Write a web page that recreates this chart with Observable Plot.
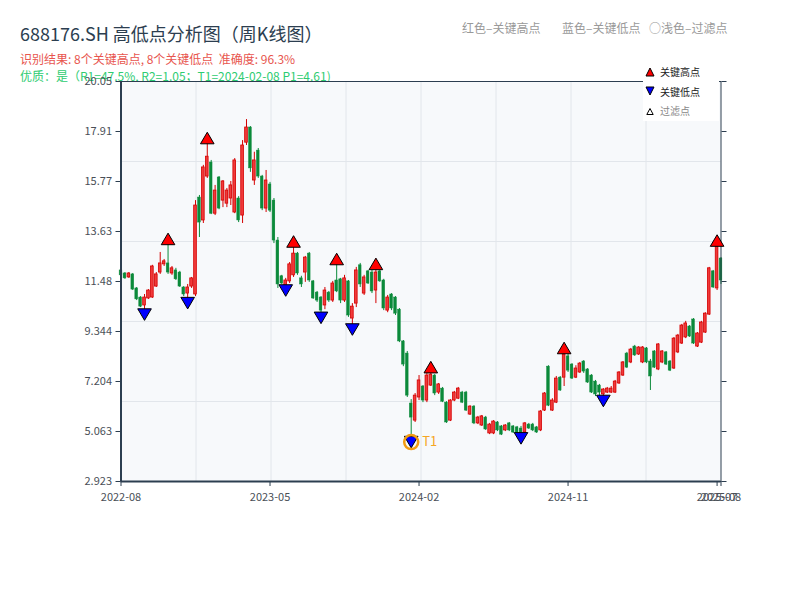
<!DOCTYPE html>
<html><head><meta charset="utf-8">
<script src="https://cdn.jsdelivr.net/npm/d3@7"></script>
<script src="https://cdn.jsdelivr.net/npm/@observablehq/plot@0.6"></script>
<style>
body{margin:0;background:#fff;}
#wrap{position:relative;width:800px;height:600px;overflow:hidden;font-family:"Noto Sans CJK SC","Noto Sans",sans-serif;}
.t{position:absolute;white-space:pre;line-height:1;}
#chart{position:absolute;left:0;top:0;z-index:1;}
#legend{position:absolute;left:643px;top:61px;width:76px;height:60px;background:#fff;z-index:2;}
#legend .row{position:absolute;left:0;height:12px;font-size:10px;line-height:12px;white-space:pre;}
#legend svg{position:absolute;left:2px;}
#legend span{position:absolute;left:17px;top:0;}
</style></head><body><div id="wrap">
<div class="t" style="left:20px;top:24px;font-size:18px;color:#2c3e50">688176.SH 高低点分析图（周K线图）</div>
<div class="t" style="left:20px;top:53px;font-size:12px;color:#e8554e">识别结果: 8个关键高点, 8个关键低点  准确度: 96.3%</div>
<div class="t" style="left:20px;top:70px;font-size:12px;color:#2ecc71">优质：是（R1=47.5%, R2=1.05；T1=2024-02-08 P1=4.61)</div>
<div class="t" style="left:462px;top:22px;font-size:12px;color:#999">红色–关键高点</div>
<div class="t" style="left:562px;top:22px;font-size:12px;color:#999">蓝色–关键低点</div>
<div class="t" style="left:649px;top:22px;font-size:12px;color:#999">○浅色–过滤点</div>
<div id="chart"></div>
<div id="legend">
  <div class="row" style="top:5px"><svg width="10" height="10" viewBox="0 0 10 10" style="top:1px"><path d="M5,1L9,9L1,9Z" fill="#ff0000" stroke="#000" stroke-width="1"/></svg><span style="color:#222">关键高点</span></div>
  <div class="row" style="top:25px"><svg width="10" height="10" viewBox="0 0 10 10" style="top:0px"><path d="M5,9L9,1L1,1Z" fill="#0000ff" stroke="#000" stroke-width="1"/></svg><span style="color:#222">关键低点</span></div>
  <div class="row" style="top:44px"><svg width="10" height="10" viewBox="0 0 10 10" style="top:1px"><path d="M5,2.5L8.2,8.5L1.8,8.5Z" fill="#fff" stroke="#000" stroke-width="1"/></svg><span style="color:#888">过滤点</span></div>
</div>
</div>
<script>
const open = [11.96,11.83,11.66,11.79,11.19,10.80,10.46,10.76,10.80,11.27,
11.87,12.22,12.26,11.83,11.96,11.87,11.23,10.97,11.27,10.93,
15.08,14.10,15.98,16.58,14.39,15.94,14.95,14.82,15.04,14.44,
15.04,14.31,17.43,18.08,15.81,17.09,15.98,14.61,15.64,14.95,
13.24,11.71,11.27,11.49,11.75,12.68,11.62,11.87,12.68,11.49,
11.01,10.80,10.46,11.01,10.67,11.53,11.58,10.67,11.49,9.90,
10.54,12.18,10.97,11.92,11.87,11.10,11.92,11.53,10.24,10.93,
10.80,10.28,8.92,8.40,6.26,5.53,6.52,6.99,6.39,7.03,
7.46,6.73,6.90,6.30,5.53,6.39,6.47,6.73,6.73,5.79,
6.13,5.41,5.32,5.66,4.98,4.98,5.45,5.28,5.11,5.41,
5.28,5.24,5.19,5.02,5.36,5.36,5.24,5.11,5.96,7.84,
5.96,6.30,7.37,7.37,8.28,7.93,7.37,7.59,8.06,7.72,
7.46,7.20,7.03,6.65,6.73,6.73,6.73,7.12,7.46,8.40,
8.02,8.70,8.36,8.02,8.62,8.06,8.49,7.72,8.02,8.45,
8.06,7.76,8.45,8.83,9.09,9.56,9.86,8.70,8.87,9.30,
10.07,11.92,11.19,12.47];
const high = [12.00,11.87,11.87,11.83,11.23,10.84,10.93,11.14,12.18,11.87,
12.73,12.43,13.31,12.13,12.05,11.92,11.27,11.36,11.66,14.95,
15.17,16.46,17.63,16.67,15.60,15.98,15.81,15.47,15.77,16.75,
15.12,17.52,18.42,18.12,17.02,17.18,16.03,16.24,15.73,15.04,
13.37,11.75,11.62,12.30,13.20,12.73,11.71,12.56,12.73,11.53,
11.06,10.84,11.23,11.06,11.49,12.45,11.62,11.75,11.53,10.54,
12.09,12.26,11.75,11.96,11.96,12.24,11.96,11.58,10.89,10.97,
10.84,10.33,8.96,8.49,6.43,6.69,7.46,7.03,7.59,7.82,
7.50,7.12,6.95,6.34,6.43,6.78,6.95,6.78,6.78,6.17,
6.17,5.71,5.75,5.71,5.41,5.53,5.49,5.32,5.36,5.45,
5.32,5.28,5.28,5.45,5.41,5.41,5.28,5.96,6.73,7.88,
6.47,7.42,7.42,8.64,8.40,7.97,7.88,8.02,8.10,7.76,
7.50,7.25,7.08,6.90,6.95,6.99,7.25,7.63,8.06,8.45,
8.62,8.75,8.70,8.70,8.66,8.15,8.53,8.83,8.53,8.49,
8.10,9.09,9.22,9.65,9.78,9.60,9.90,9.30,9.78,10.15,
12.09,11.96,13.24,12.51];
const low = [11.71,11.58,11.62,11.10,10.67,10.37,10.07,10.72,10.76,11.23,
11.79,12.13,11.79,11.75,11.53,11.23,10.84,10.56,11.19,10.84,
13.37,13.97,15.90,14.35,14.31,14.56,14.65,14.65,14.74,14.39,
14.01,13.97,17.31,16.16,15.60,15.90,14.52,14.44,14.44,13.11,
11.19,11.36,11.10,11.40,11.66,11.75,11.23,11.45,11.45,10.72,
10.59,9.93,10.28,10.59,10.59,11.01,10.54,10.59,9.95,9.43,
10.37,11.23,10.89,11.36,10.97,10.54,11.45,10.24,10.15,10.24,
10.03,8.87,7.84,6.52,4.61,5.45,6.39,6.30,6.30,6.99,
6.60,6.65,6.30,5.41,5.49,6.34,6.43,6.26,5.92,5.75,
5.36,5.36,5.28,5.11,4.93,4.93,5.06,4.89,5.06,5.06,
4.98,4.89,4.77,4.98,5.15,5.06,4.98,5.06,5.92,6.13,
5.92,6.26,6.78,6.99,7.59,7.29,7.33,7.55,7.55,7.12,
6.69,6.56,6.56,6.37,6.69,6.69,6.69,7.08,7.42,7.76,
7.97,8.28,8.32,7.97,7.97,6.82,7.76,7.67,7.97,7.89,
7.63,7.72,8.40,8.79,9.04,9.09,8.79,8.66,8.83,9.26,
10.03,11.19,11.10,11.36];
const close = [11.75,11.62,11.83,11.14,10.72,10.41,10.80,11.10,12.13,11.79,
12.26,12.35,11.87,12.05,11.58,11.27,10.93,11.23,11.62,14.74,
14.01,16.37,16.83,14.39,15.38,14.61,15.77,15.38,15.60,16.67,
14.10,17.31,18.08,16.33,16.67,15.98,14.61,15.81,14.52,13.24,
11.36,11.40,11.53,12.22,12.68,11.83,11.36,12.51,11.53,10.76,
10.67,10.24,11.10,10.67,11.40,11.06,10.67,11.62,10.03,10.41,
11.96,11.36,11.66,11.40,11.06,11.87,11.49,10.33,10.80,10.33,
10.11,8.92,7.93,6.60,5.66,6.60,7.25,6.39,7.46,7.50,
6.69,7.08,6.34,5.45,6.39,6.73,6.90,6.30,5.96,6.13,
5.41,5.66,5.71,5.15,5.36,5.49,5.11,4.93,5.32,5.11,
5.02,4.93,4.98,5.41,5.19,5.11,5.02,5.92,6.69,6.17,
6.39,7.33,6.82,8.36,7.67,7.33,7.76,7.97,7.63,7.16,
6.73,6.65,6.73,6.86,6.90,6.90,7.20,7.59,8.02,7.80,
8.57,8.32,8.66,8.66,8.02,7.42,7.80,8.79,8.49,7.93,
7.67,9.04,9.17,9.60,9.69,9.13,8.83,9.26,9.73,10.11,
12.05,11.23,12.99,11.53];

const keyHighIdx = [12, 22, 44, 55, 65, 79, 113, 152];
const keyLowIdx = [6, 17, 42, 51, 59, 74, 102, 123];
const t1Index = 74;
const t1Price = 4.61;
const t1Label = "T1";

const xTickIdx = [0, 38, 76, 114, 152, 153];
const xTickLabels = ["2022-08", "2023-05", "2024-02", "2024-11", "2025-07", "2025-08"];
const yDomain = [2.923, 20.05];
const yTickLabels = ["2.923", "5.063", "7.204", "9.344", "11.48", "13.63", "15.77", "17.91", "20.05"];

const RED = "#d40000", RED_FILL = "#f03a3a", GREEN = "#0b8a3a", AXIS = "#2c3e50";

const candles = open.map((o, i) => ({i, open: o, high: high[i], low: low[i], close: close[i], up: close[i] >= o}));
const n = candles.length;
const upC = candles.filter(d => d.up), dnC = candles.filter(d => !d.up);
const yTicks = yTickLabels.map((_, k) => yDomain[0] + k * (yDomain[1] - yDomain[0]) / (yTickLabels.length - 1));
const yLabelOf = new Map(yTicks.map((v, k) => [v, yTickLabels[k]]));
const gridY = d3.range(1, 5).map(k => yDomain[0] + k * (yDomain[1] - yDomain[0]) / 5);
const gridX = d3.range(1, 8).map(k => k * (n - 1) / 8);

const triUp = {draw(ctx, size) { const r = Math.sqrt(size / Math.PI), h = r * 0.85; ctx.moveTo(0, -h); ctx.lineTo(r, h); ctx.lineTo(-r, h); ctx.closePath(); }};
const triDown = {draw(ctx, size) { const r = Math.sqrt(size / Math.PI), h = r * 0.85; ctx.moveTo(0, h); ctx.lineTo(r, -h); ctx.lineTo(-r, -h); ctx.closePath(); }};

const chart = Plot.plot({
  width: 800, height: 520,
  marginTop: 81, marginBottom: 39, marginLeft: 120.5, marginRight: 79.5,
  style: {fontFamily: '"Noto Sans CJK SC","Noto Sans",sans-serif', fontSize: "11px", background: "transparent", overflow: "visible"},
  x: {type: "linear", domain: [0, n - 1]},
  y: {domain: yDomain},
  marks: [
    Plot.frame({fill: "#f7f9fb", stroke: null}),
    Plot.ruleY(gridY, {stroke: "#e2e6eb", strokeWidth: 1}),
    Plot.ruleX(gridX, {stroke: "#e2e6eb", strokeWidth: 1}),
    Plot.ruleX(upC, {x: "i", y1: "low", y2: "high", stroke: RED, strokeWidth: 1}),
    Plot.ruleX(dnC, {x: "i", y1: "low", y2: "high", stroke: GREEN, strokeWidth: 1}),
    Plot.rect(upC, {x1: d => d.i - 0.34, x2: d => d.i + 0.34, y1: "open", y2: "close", fill: RED_FILL, stroke: RED, strokeWidth: 0.8}),
    Plot.rect(dnC, {x1: d => d.i - 0.34, x2: d => d.i + 0.34, y1: "open", y2: "close", fill: GREEN, stroke: GREEN, strokeWidth: 0.5}),
    Plot.frame({stroke: AXIS, strokeWidth: 1, fill: "none"}),
    Plot.ruleX([0], {stroke: AXIS, strokeWidth: 2}),
    Plot.ruleY([yDomain[0]], {stroke: AXIS, strokeWidth: 2}),
    Plot.axisY(yTicks, {anchor: "left", tickSize: 5, tickPadding: 4, tickFormat: d => yLabelOf.get(d), fontSize: 11, stroke: AXIS, fill: "#4a4f57", label: null}),
    Plot.axisY(yTicks, {anchor: "right", tickSize: 5, tickFormat: () => "", stroke: AXIS, fill: "none", label: null}),
    Plot.axisX(xTickIdx, {anchor: "bottom", tickSize: 5, tickPadding: 7, tickFormat: d => xTickLabels[xTickIdx.indexOf(d)], fontSize: 11, stroke: AXIS, fill: "#4a4f57", label: null}),
    Plot.dot(keyHighIdx, {x: d => d, y: d => high[d], symbol: triUp, r: 6.8, fill: "#ff0000", stroke: "#000", strokeWidth: 1}),
    Plot.dot(keyLowIdx, {x: d => d, y: d => low[d], symbol: triDown, r: 6.8, fill: "#0000ff", stroke: "#000", strokeWidth: 1}),
    Plot.dot([t1Index], {x: d => d, y: () => t1Price, r: 7, fill: "none", stroke: "#f39c12", strokeWidth: 2.5}),
    Plot.text([t1Index], {x: d => d, y: () => t1Price, text: () => t1Label, dx: 11, textAnchor: "start", fill: "#f5a623", fontSize: 13})
  ]
});
document.getElementById("chart").appendChild(chart);
</script>
</body></html>
